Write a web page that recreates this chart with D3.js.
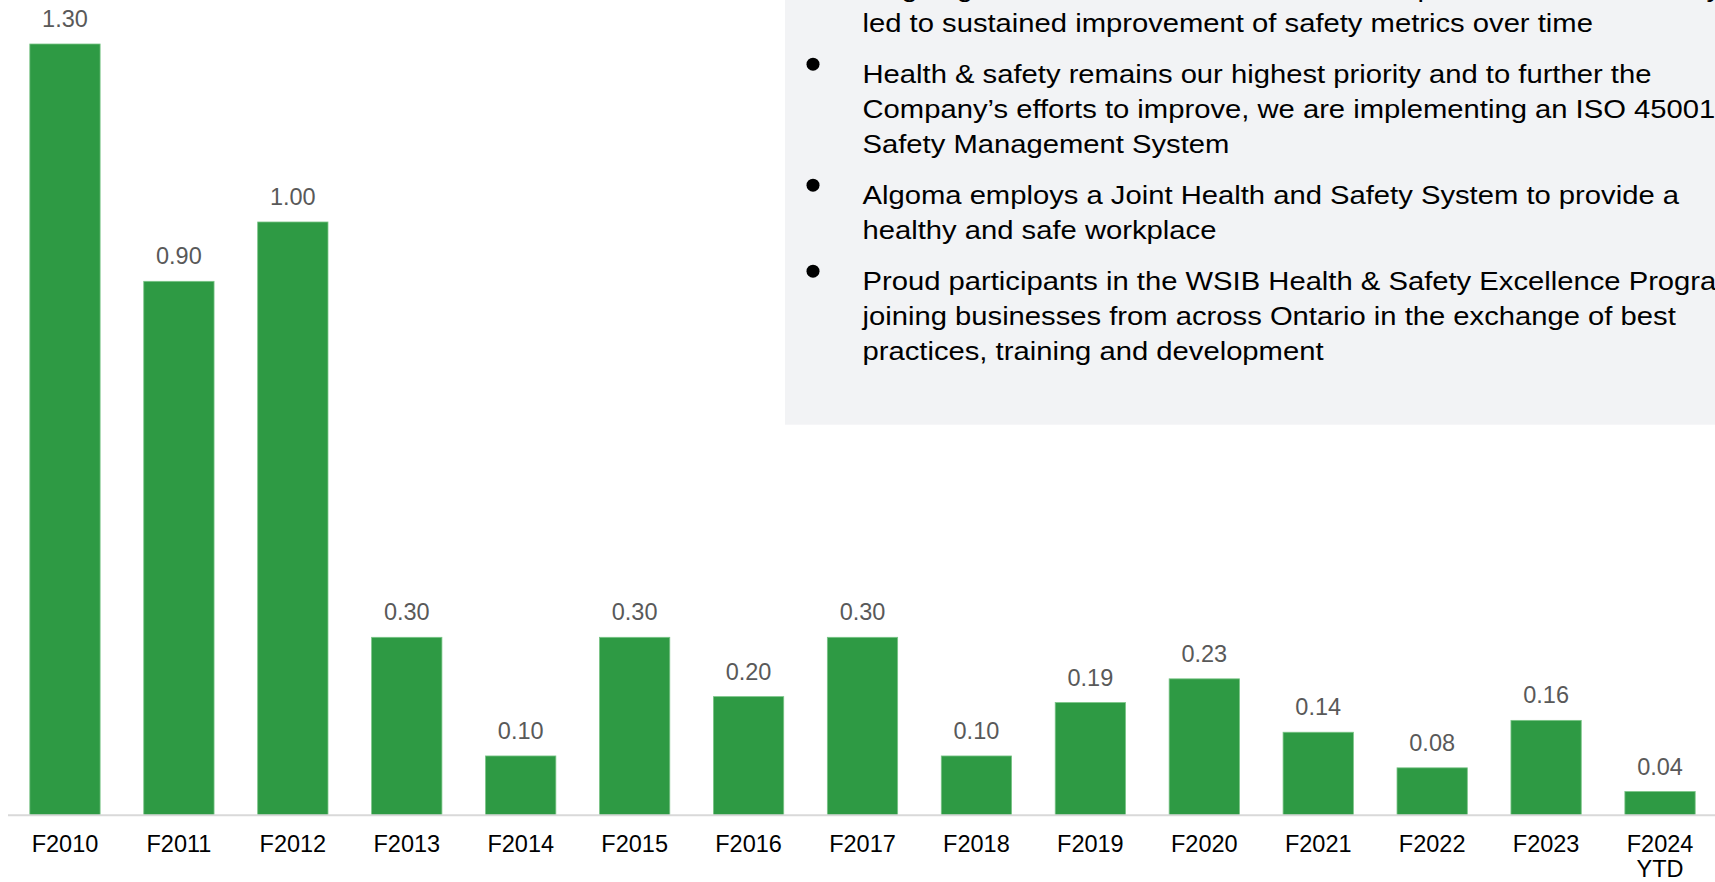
<!DOCTYPE html>
<html>
<head>
<meta charset="utf-8">
<script src="https://cdn.jsdelivr.net/npm/d3@7"></script>
<style>
  body { margin: 0; background: #fff; }
  svg { display: block; font-family: "Liberation Sans", Arial, sans-serif; }
</style>
</head>
<body>
<svg id="chart" width="1715" height="882"></svg>
<script>
// LTI frequency by fiscal year
var categories = ["F2010", "F2011", "F2012", "F2013", "F2014", "F2015", "F2016", "F2017",
                  "F2018", "F2019", "F2020", "F2021", "F2022", "F2023", "F2024\nYTD"];
var values = [1.30, 0.90, 1.00, 0.30, 0.10, 0.30, 0.20, 0.30, 0.10, 0.19, 0.23, 0.14, 0.08, 0.16, 0.04];

// bullet points in the grey box, one array of lines per bullet
var bullets = [
  ["Ongoing investment and commitment to improve health and safety practices has",
   "led to sustained improvement of safety metrics over time"],
  ["Health & safety remains our highest priority and to further the",
   "Company\u2019s efforts to improve, we are implementing an ISO 45001",
   "Safety Management System"],
  ["Algoma employs a Joint Health and Safety System to provide a",
   "healthy and safe workplace"],
  ["Proud participants in the WSIB Health & Safety Excellence Program,",
   "joining businesses from across Ontario in the exchange of best",
   "practices, training and development"]
];

var svg = d3.select("#chart");
var W = 1715, H = 882;
var baseY = 815.3, topY = 44;

var x = d3.scaleBand()
    .domain(categories)
    .range([8, 1717])
    .paddingInner(0.383)
    .paddingOuter(0.1915);

var y = d3.scaleLinear()
    .domain([0, 1.3])
    .range([baseY, topY]);

// bars
svg.selectAll(".bar")
    .data(values)
    .enter()
    .append("rect")
    .attr("class", "bar")
    .attr("x", function(d, i) { return x(categories[i]); })
    .attr("y", function(d) { return y(d); })
    .attr("width", x.bandwidth())
    .attr("height", function(d) { return baseY - y(d); })
    .style("fill", "#2e9a44")
    .style("stroke", "#79c486")
    .style("stroke-width", 0.8);

// value labels
svg.selectAll(".val")
    .data(values)
    .enter()
    .append("text")
    .attr("class", "val")
    .attr("x", function(d, i) { return x(categories[i]) + x.bandwidth() / 2; })
    .attr("y", function(d) { return y(d) - 17; })
    .attr("text-anchor", "middle")
    .style("font-size", "23.5px")
    .style("fill", "#595959")
    .text(function(d) { return d3.format(".2f")(d); });

// x axis
var xAxis = svg.append("g")
    .attr("transform", "translate(0," + baseY + ")")
    .call(d3.axisBottom(x).tickSize(0).tickPadding(0).tickFormat(""));
xAxis.select(".domain").remove();
xAxis.append("line")
    .attr("x1", 8).attr("x2", W)
    .attr("y1", 0).attr("y2", 0)
    .style("stroke", "#d9d9d9")
    .style("stroke-width", 2);

xAxis.selectAll(".tick").each(function(d) {
    var lines = d.split("\n");
    var t = d3.select(this).append("text")
        .attr("text-anchor", "middle")
        .style("font-size", "23.5px")
        .style("fill", "#000");
    lines.forEach(function(l, j) {
        t.append("tspan").attr("x", 0).attr("y", 37 + j * 25).text(l);
    });
});

// grey commentary box
var box = svg.append("g");
box.append("rect")
    .attr("x", 785).attr("y", 0)
    .attr("width", W - 785).attr("height", 424.7)
    .style("fill", "#f2f3f5");

var lineH = 35, paraGap = 16;
var bl = -3.3;
bullets.forEach(function(para) {
    box.append("circle")
        .attr("cx", 813).attr("cy", bl - 18.5)
        .attr("r", 6.5)
        .style("fill", "#000");
    para.forEach(function(line, j) {
        // reference font is a bit wider than Liberation Sans, so stretch horizontally
        box.append("text")
            .attr("transform", "translate(862.5," + (bl + j * lineH) + ") scale(1.146,1)")
            .style("font-size", "25.5px")
            .style("fill", "#000")
            .text(line);
    });
    bl += para.length * lineH + paraGap;
});
</script>
</body>
</html>
